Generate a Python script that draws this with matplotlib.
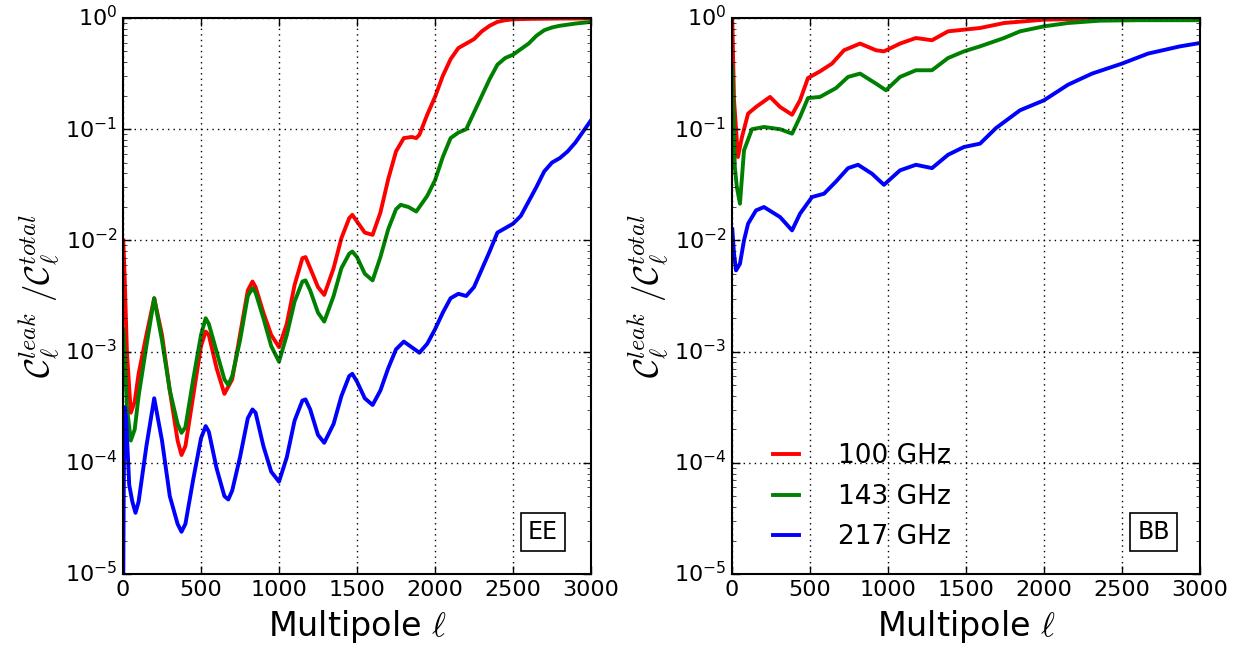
import matplotlib
matplotlib.use("Agg")
import matplotlib.pyplot as plt
import numpy as np

# ---------------- data (log10 of C_leak / C_total) ----------------
# EE panel
ee_ell_100 = [2, 10, 25, 50, 75, 100, 150, 200, 250, 300, 350, 375, 400, 450, 500, 530, 550,
              600, 650, 700, 750, 800, 830, 850, 900, 950, 1000, 1050, 1100, 1150, 1170, 1200,
              1250, 1290, 1350, 1400, 1450, 1470, 1500, 1550, 1600, 1650, 1700, 1750, 1800,
              1850, 1880, 1900, 1950, 2000, 2050, 2100, 2150, 2200, 2250, 2300, 2350, 2400,
              2450, 2500, 2600, 2800, 3000]
ee_log_100 = [-2.0, -2.3, -3.0, -3.55, -3.45, -3.2, -2.85, -2.52, -2.85, -3.35, -3.8, -3.93,
              -3.85, -3.4, -2.95, -2.82, -2.85, -3.15, -3.38, -3.25, -2.85, -2.45, -2.37,
              -2.42, -2.65, -2.85, -2.96, -2.75, -2.4, -2.16, -2.15, -2.25, -2.42, -2.49,
              -2.25, -1.98, -1.8, -1.77, -1.83, -1.93, -1.95, -1.75, -1.45, -1.2, -1.08,
              -1.07, -1.08, -1.05, -0.87, -0.71, -0.52, -0.37, -0.27, -0.23, -0.19, -0.12,
              -0.07, -0.035, -0.02, -0.012, -0.008, -0.005, -0.004]

ee_ell_143 = [2, 10, 25, 50, 75, 100, 150, 200, 250, 300, 350, 375, 400, 450, 500, 530, 550,
              600, 650, 675, 700, 750, 800, 830, 850, 900, 950, 1000, 1050, 1100, 1150, 1170,
              1200, 1250, 1290, 1350, 1400, 1450, 1470, 1500, 1550, 1600, 1650, 1700, 1750,
              1780, 1830, 1880, 1950, 2000, 2050, 2100, 2150, 2200, 2250, 2300, 2350, 2400,
              2450, 2500, 2550, 2600, 2650, 2700, 2750, 2800, 2900, 3000]
ee_log_143 = [-2.8, -3.0, -3.5, -3.8, -3.7, -3.4, -2.95, -2.52, -2.9, -3.35, -3.65, -3.73,
              -3.68, -3.25, -2.85, -2.70, -2.75, -3.0, -3.25, -3.3, -3.22, -2.9, -2.5, -2.43,
              -2.47, -2.7, -2.95, -3.09, -2.85, -2.55, -2.37, -2.36, -2.45, -2.65, -2.73,
              -2.5, -2.25, -2.12, -2.10, -2.15, -2.3, -2.36, -2.15, -1.9, -1.72, -1.68, -1.70,
              -1.74, -1.6, -1.46, -1.25, -1.08, -1.03, -1.0, -0.85, -0.70, -0.55, -0.42,
              -0.36, -0.33, -0.28, -0.23, -0.16, -0.11, -0.085, -0.07, -0.05, -0.035]

ee_ell_217 = [2, 5, 10, 20, 40, 60, 80, 100, 150, 200, 250, 300, 350, 375, 400, 450, 500, 530,
              550, 600, 650, 675, 700, 750, 800, 830, 850, 900, 950, 1000, 1050, 1100, 1150,
              1170, 1200, 1250, 1290, 1350, 1400, 1450, 1470, 1500, 1550, 1600, 1650, 1700,
              1750, 1800, 1850, 1900, 1950, 2000, 2050, 2100, 2150, 2200, 2250, 2300, 2350,
              2400, 2450, 2500, 2550, 2600, 2650, 2700, 2750, 2800, 2850, 2900, 2950, 3000]
ee_log_217 = [-5.0, -4.2, -3.5, -3.6, -4.2, -4.35, -4.45, -4.35, -3.85, -3.42, -3.8, -4.3,
              -4.55, -4.62, -4.55, -4.15, -3.78, -3.67, -3.72, -4.05, -4.3, -4.33, -4.25,
              -3.95, -3.6, -3.52, -3.55, -3.85, -4.08, -4.17, -3.95, -3.62, -3.44, -3.43,
              -3.52, -3.75, -3.82, -3.65, -3.4, -3.22, -3.2, -3.27, -3.42, -3.48, -3.35,
              -3.15, -2.98, -2.91, -2.96, -3.01, -2.93, -2.8, -2.65, -2.52, -2.48, -2.5,
              -2.42, -2.26, -2.1, -1.93, -1.89, -1.85, -1.78, -1.65, -1.52, -1.38, -1.3,
              -1.26, -1.2, -1.12, -1.02, -0.92]

# BB panel
bb_ell_100 = [2, 13, 26, 38, 64, 103, 154, 244, 308, 385, 436, 487, 564, 641, 718, 821, 923,
              974, 1077, 1179, 1282, 1385, 1487, 1590, 1744, 2000, 2300, 2600, 3000]
bb_log_100 = [-0.02, -0.74, -1.0, -1.25, -1.07, -0.86, -0.80, -0.71, -0.80, -0.87, -0.74,
              -0.54, -0.48, -0.41, -0.29, -0.23, -0.29, -0.30, -0.23, -0.18, -0.20, -0.12,
              -0.105, -0.09, -0.045, -0.015, -0.007, -0.005, -0.004]

bb_ell_143 = [2, 18, 31, 51, 77, 128, 205, 308, 385, 436, 487, 564, 667, 744, 821, 923, 987,
              1077, 1179, 1282, 1385, 1487, 1590, 1744, 1846, 2000, 2154, 2359, 2600, 3000]
bb_log_143 = [-0.44, -1.34, -1.52, -1.67, -1.19, -1.0, -0.98, -1.0, -1.04, -0.89, -0.72,
              -0.71, -0.63, -0.53, -0.50, -0.59, -0.65, -0.53, -0.47, -0.47, -0.36, -0.30,
              -0.255, -0.18, -0.12, -0.075, -0.045, -0.024, -0.02, -0.02]

bb_ell_217 = [2, 13, 26, 51, 77, 103, 154, 205, 308, 385, 436, 513, 590, 667, 744, 808, 897,
              974, 1077, 1179, 1282, 1385, 1487, 1590, 1692, 1846, 2000, 2154, 2308, 2500,
              2667, 2872, 3000]
bb_log_217 = [-1.9, -2.12, -2.27, -2.21, -2.0, -1.85, -1.73, -1.70, -1.79, -1.91, -1.76,
              -1.61, -1.58, -1.47, -1.35, -1.32, -1.40, -1.50, -1.37, -1.32, -1.35, -1.23,
              -1.16, -1.13, -0.99, -0.83, -0.74, -0.60, -0.50, -0.41, -0.32, -0.255, -0.225]

labels = ["100 GHz", "143 GHz", "217 GHz"]
colors = ["red", "green", "blue"]
panel_tags = ["EE", "BB"]
tag_x = [0.9295, 0.936]
xticks = [0, 500, 1000, 1500, 2000, 2500, 3000]

# ---------------- figure ----------------
plt.style.use("classic")
plt.rcParams["axes.unicode_minus"] = False
plt.rcParams["mathtext.fontset"] = "cm"

fig = plt.figure(figsize=(12.47, 6.5), dpi=100, facecolor="white")
ax1 = fig.add_axes([123 / 1247, 76 / 650, 468 / 1247, 556 / 650])
ax2 = fig.add_axes([732 / 1247, 76 / 650, 468 / 1247, 556 / 650])

panels = [
    (ax1, [(ee_ell_100, ee_log_100), (ee_ell_143, ee_log_143), (ee_ell_217, ee_log_217)]),
    (ax2, [(bb_ell_100, bb_log_100), (bb_ell_143, bb_log_143), (bb_ell_217, bb_log_217)]),
]

for (ax, series), tag, tx in zip(panels, panel_tags, tag_x):
    for (ell, lg), c, lab in zip(series, colors, labels):
        ax.plot(ell, 10.0 ** np.array(lg), color=c, lw=2.8, label=lab)
    ax.set_yscale("log")
    ax.set_xlim(0, 3000)
    ax.set_ylim(1e-5, 1)
    ax.set_xticks(xticks)
    ax.grid(True, which="major", linestyle=":", color="k", linewidth=1)
    ax.tick_params(axis="both", which="major", labelsize=16, length=6, width=1)
    ax.tick_params(axis="both", which="minor", length=3)
    ax.set_xlabel(r"Multipole $\ell$", fontsize=24, labelpad=6)
    ax.set_ylabel(r"$\mathcal{C}_\ell^{leak}\ /\mathcal{C}_\ell^{total}$", fontsize=25)
    ax.yaxis.set_label_coords(-0.13, 0.5)
    ax.text(tx, 0.054, tag, transform=ax.transAxes, ha="right", va="bottom",
            fontsize=17, bbox=dict(facecolor="white", edgecolor="black",
                                   boxstyle="square,pad=0.3", linewidth=1.2))
    for s in ax.spines.values():
        s.set_linewidth(1.5)

leg = ax2.legend(loc="lower left", bbox_to_anchor=(0.02, 0.0), frameon=False,
                 fontsize=19, handlelength=1.6, labelspacing=0.55, handletextpad=1.15)
for h in leg.get_lines():
    h.set_linewidth(2.8)

fig.savefig("out.png", dpi=100, facecolor="white")
